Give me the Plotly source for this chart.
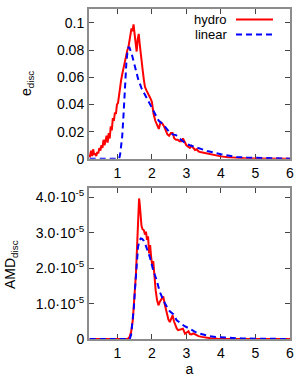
import plotly.graph_objects as go
from plotly.subplots import make_subplots

# ---- data: top panel (e_disc) ----
x_hydro_e = [0.20,0.24,0.27,0.30,0.33,0.36,0.39,0.42,0.45,0.48,0.51,0.54,0.57,0.60,0.63,0.66,0.69,
             0.72,0.75,0.78,0.81,0.84,0.87,0.90,0.93,0.96,0.99,1.02,1.05,1.08,1.11,1.14,1.17,1.20,
             1.23,1.26,1.29,1.32,1.35,1.38,1.41,1.44,1.47,1.50,1.53,1.56,1.59,1.62,1.65,1.68,1.71,
             1.74,1.77,1.80,1.85,1.90,1.95,2.00,2.05,2.10,2.15,2.20,2.25,2.30,2.35,2.40,2.45,2.50,
             2.55,2.60,2.65,2.70,2.75,2.80,2.85,2.90,2.95,3.00,3.05,3.10,3.15,3.20,3.25,3.30,3.35,
             3.40,3.50,3.60,3.70,3.80,3.90,4.00,4.20,4.40,4.60,4.80,5.00,5.50,6.00]
e_hydro = [0.001,0.006,0.002,0.007,0.003,0.004,0.002,0.005,0.004,0.008,0.006,0.010,0.008,0.014,
           0.010,0.013,0.017,0.012,0.019,0.015,0.024,0.021,0.030,0.028,0.034,0.033,0.040,0.041,
           0.048,0.052,0.058,0.062,0.066,0.070,0.072,0.078,0.080,0.082,0.088,0.090,0.096,0.094,
           0.099,0.092,0.085,0.079,0.088,0.092,0.084,0.076,0.070,0.064,0.058,0.053,0.050,0.048,
           0.045,0.042,0.033,0.028,0.025,0.022,0.027,0.026,0.024,0.021,0.018,0.017,0.019,0.019,
           0.015,0.014,0.014,0.013,0.013,0.015,0.012,0.010,0.009,0.008,0.0095,0.0075,0.0065,
           0.007,0.0055,0.005,0.0045,0.0035,0.003,0.0028,0.0025,0.0018,0.0012,0.0008,0.0005,
           0.0003,0.0002,0.0001,0.0]

x_linear_e = [0.20,1.05,1.08,1.11,1.14,1.17,1.20,1.23,1.26,1.29,1.32,1.35,1.38,1.42,1.46,1.50,1.55,
              1.60,1.70,1.80,1.90,2.00,2.10,2.20,2.30,2.40,2.50,2.60,2.70,2.80,2.90,3.00,3.10,3.20,
              3.40,3.60,3.80,3.90,4.00,4.25,4.45,4.75,5.00,5.50,6.00]
e_linear = [0.0,0.0,0.003,0.008,0.016,0.028,0.045,0.060,0.070,0.078,0.082,0.082,0.080,0.077,0.073,
            0.069,0.064,0.059,0.052,0.047,0.043,0.038,0.032,0.028,0.026,0.023,0.020,0.018,0.0175,
            0.015,0.0128,0.011,0.010,0.009,0.0075,0.0058,0.0045,0.004,0.0034,0.0022,0.0013,0.0009,
            0.0007,0.0003,0.0001]

# ---- data: bottom panel (AMD_disc) ----
x_hydro_amd = [0.20,1.30,1.35,1.40,1.45,1.50,1.54,1.58,1.61,1.63,1.65,1.67,1.70,1.73,1.77,1.80,1.83,
               1.86,1.89,1.92,1.95,1.98,2.01,2.04,2.07,2.11,2.15,2.19,2.23,2.28,2.33,2.38,2.43,2.48,
               2.52,2.56,2.60,2.64,2.68,2.72,2.76,2.82,2.90,2.96,3.02,3.06,3.10,3.15,3.20,3.25,3.30,
               3.35,3.45,3.55,3.70,3.90,4.20,5.00,6.00]
amd_hydro = [0.0,0.0,0.05e-5,0.2e-5,0.55e-5,1.2e-5,1.85e-5,2.8e-5,3.5e-5,3.97e-5,3.8e-5,3.5e-5,
             3.2e-5,3.1e-5,3.07e-5,2.95e-5,3.03e-5,2.8e-5,2.9e-5,2.42e-5,2.65e-5,2.3e-5,2.1e-5,
             2.2e-5,1.75e-5,1.38e-5,1.1e-5,0.95e-5,1.05e-5,1.12e-5,1.2e-5,0.95e-5,0.72e-5,0.55e-5,
             0.48e-5,0.6e-5,0.67e-5,0.5e-5,0.39e-5,0.3e-5,0.25e-5,0.27e-5,0.29e-5,0.15e-5,0.2e-5,
             0.22e-5,0.14e-5,0.13e-5,0.16e-5,0.13e-5,0.1e-5,0.08e-5,0.06e-5,0.04e-5,0.02e-5,
             0.01e-5,0.005e-5,0.002e-5,0.0]

x_linear_amd = [0.20,1.36,1.40,1.44,1.48,1.51,1.54,1.57,1.60,1.64,1.68,1.72,1.76,1.81,1.86,1.94,2.04,
                2.14,2.23,2.38,2.52,2.62,2.72,2.81,2.95,3.10,3.25,3.39,3.55,3.68,3.85,4.07,4.30,4.60,
                5.00,5.50,6.00]
amd_linear = [0.0,0.0,0.12e-5,0.43e-5,0.9e-5,1.38e-5,1.9e-5,2.3e-5,2.6e-5,2.78e-5,2.84e-5,2.83e-5,
              2.78e-5,2.68e-5,2.56e-5,2.32e-5,1.94e-5,1.66e-5,1.33e-5,1.0e-5,0.78e-5,0.7e-5,0.53e-5,
              0.46e-5,0.36e-5,0.29e-5,0.2e-5,0.15e-5,0.1e-5,0.076e-5,0.055e-5,0.04e-5,0.025e-5,
              0.015e-5,0.008e-5,0.003e-5,0.001e-5]

x_ticks = [1, 2, 3, 4, 5, 6]
e_ticks = [0, 0.02, 0.04, 0.06, 0.08, 0.1]
e_ticklabels = ["0", "0.02", "0.04", "0.06", "0.08", "0.1"]
amd_ticks = [0, 1e-5, 2e-5, 3e-5, 4e-5]
amd_ticklabels = ["0", "1.0·10<sup>-5</sup>", "2.0·10<sup>-5</sup>",
                  "3.0·10<sup>-5</sup>", "4.0·10<sup>-5</sup>"]
series_names = ["hydro", "linear"]

RED = "#ff0000"
BLUE = "#0000ff"
FRAME = "#8c8c8c"
FONT = "Liberation Sans, Arial, sans-serif"

fig = make_subplots(rows=2, cols=1)
fig.add_trace(go.Scatter(x=x_hydro_e, y=e_hydro, mode="lines", name=series_names[0],
                         line=dict(color=RED, width=2), showlegend=False), row=1, col=1)
fig.add_trace(go.Scatter(x=x_linear_e, y=e_linear, mode="lines", name=series_names[1],
                         line=dict(color=BLUE, width=2, dash="6px,4px"), showlegend=False), row=1, col=1)
fig.add_trace(go.Scatter(x=x_hydro_amd, y=amd_hydro, mode="lines", name=series_names[0],
                         line=dict(color=RED, width=2), showlegend=False), row=2, col=1)
fig.add_trace(go.Scatter(x=x_linear_amd, y=amd_linear, mode="lines", name=series_names[1],
                         line=dict(color=BLUE, width=2, dash="6px,4px"), showlegend=False), row=2, col=1)

axis_common = dict(showline=True, mirror="allticks", linecolor=FRAME, linewidth=2,
                   ticks="inside", ticklen=5, tickwidth=1, tickcolor="#444444",
                   showgrid=False, zeroline=False, layer="below traces", automargin=False,
                   tickfont=dict(size=14, color="#000000", family=FONT))

fig.update_xaxes(range=[0.18, 6], tickvals=x_ticks, **axis_common)
fig.update_yaxes(**axis_common)
fig.update_yaxes(range=[0, 0.1103], tickvals=e_ticks, ticktext=e_ticklabels,
                 domain=[0.546, 1.0], row=1, col=1)
fig.update_yaxes(range=[0, 4.26e-5], tickvals=amd_ticks, ticktext=amd_ticklabels,
                 domain=[0.0, 0.457], row=2, col=1)
fig.update_xaxes(title=dict(text="a", font=dict(size=14, family=FONT, color="#000"), standoff=4),
                 row=2, col=1)

W, H = 300, 379
ml, mr, mt, mb = 89, 10, 9, 40
pw = W - ml - mr
ph = H - mt - mb

def px_x(p):
    return (p - ml) / pw

def px_y(p):
    return 1 - (p - mt) / ph

annotations = [
    dict(text="e<sub>disc</sub>", x=px_x(27), y=px_y(84), xref="paper", yref="paper",
         textangle=-90, showarrow=False, xanchor="center", yanchor="middle",
         font=dict(size=14, family=FONT, color="#000")),
    dict(text="AMD<sub>disc</sub>", x=px_x(11), y=px_y(265), xref="paper", yref="paper",
         textangle=-90, showarrow=False, xanchor="center", yanchor="middle",
         font=dict(size=14, family=FONT, color="#000")),
]
shapes = []
for i, (nm, col, dash) in enumerate(zip(series_names, [RED, BLUE], ["solid", "dash"])):
    yy = px_y(19.5 + i * 15)
    annotations.append(dict(text=nm, x=px_x(228), y=yy, xref="paper", yref="paper",
                            showarrow=False, xanchor="right", yanchor="middle", borderpad=0,
                            font=dict(size=13, family=FONT, color="#000")))
    shapes.append(dict(type="line", xref="paper", yref="paper", x0=px_x(236), x1=px_x(273),
                       y0=yy, y1=yy, line=dict(color=col, width=2,
                                               dash="solid" if dash == "solid" else "6px,4px")))

fig.update_layout(width=W, height=H, margin=dict(l=ml, r=mr, t=mt, b=mb, autoexpand=False),
                  paper_bgcolor="white", plot_bgcolor="white",
                  font=dict(family=FONT, size=14, color="#000"),
                  annotations=annotations, shapes=shapes, showlegend=False)

fig.write_html("out.html", config={"displayModeBar": False},
               post_script="document.body.style.margin='0';document.body.style.padding='0';")
